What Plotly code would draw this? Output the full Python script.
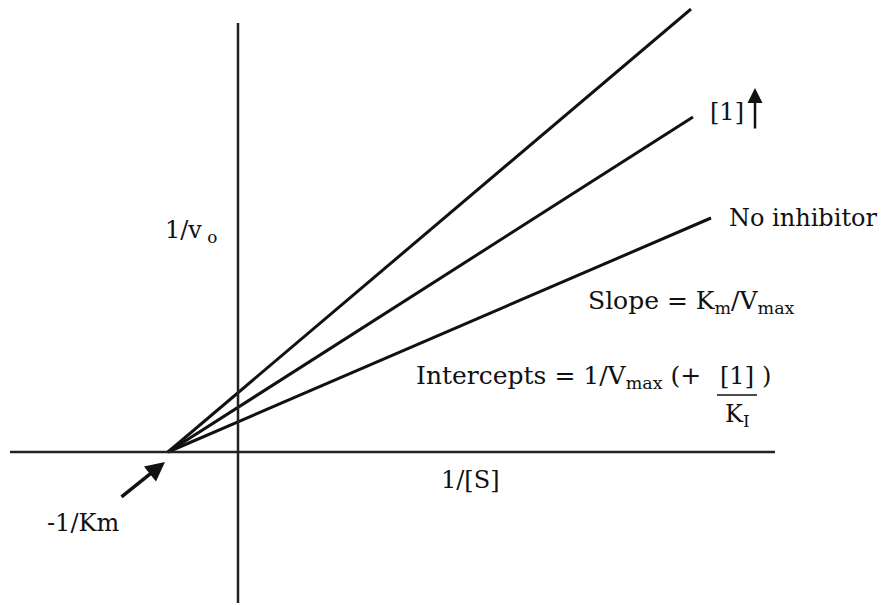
import plotly.graph_objects as go

# ---- data ----
series_names = ["[1] high", "[1]", "No inhibitor"]
x_intercept = -0.70          # -1/Km, shared by all lines
x_end = [4.53, 4.55, 4.73]
y_end = [4.43, 3.35, 2.34]

# axis extents (data units)
haxis_x = [-2.28, 5.37]
vaxis_y = [-1.51, 4.29]

FONT = "DejaVu Serif"
INK = "#111111"
fig = go.Figure()

for name, xe, ye in zip(series_names, x_end, y_end):
    fig.add_trace(go.Scatter(x=[x_intercept, xe], y=[0, ye], mode="lines",
                             line=dict(color=INK, width=3), name=name,
                             showlegend=False, hoverinfo="skip"))

# axes
fig.add_trace(go.Scatter(x=haxis_x, y=[0, 0], mode="lines",
                         line=dict(color="#222222", width=2.5), showlegend=False, hoverinfo="skip"))
fig.add_trace(go.Scatter(x=[0, 0], y=vaxis_y, mode="lines",
                         line=dict(color="#222222", width=2.5), showlegend=False, hoverinfo="skip"))

ann = [
    dict(x=4.89, y=2.34, text="No inhibitor", xanchor="left", size=24),
    dict(x=4.70, y=3.40, text="[1]", xanchor="left", size=24),
    dict(x=3.48, y=1.50, text="Slope = K<sub>m</sub>/V<sub>max</sub>", xanchor="left", size=25),
    dict(x=1.76, y=0.75, text="Intercepts = 1/V<sub>max</sub> (+", xanchor="left", size=25),
    dict(x=4.99, y=0.76, text="[1]", xanchor="center", size=24),
    dict(x=5.22, y=0.76, text=")", xanchor="left", size=24),
    dict(x=4.99, y=0.37, text="K<sub>I</sub>", xanchor="center", size=24),
    dict(x=-0.75, y=2.21, text="1/v<sub> o</sub>", xanchor="left", size=24),
    dict(x=2.32, y=-0.28, text="1/[S]", xanchor="center", size=24),
    dict(x=-1.55, y=-0.71, text="-1/Km", xanchor="center", size=24),
]
for a in ann:
    size = a.pop("size")
    fig.add_annotation(**a, yanchor="middle", showarrow=False,
                       font=dict(family=FONT, size=size, color=INK))

# arrow pointing at -1/Km
fig.add_annotation(x=-0.73, y=-0.10, ax=-1.18, ay=-0.46, axref="x", ayref="y",
                   xref="x", yref="y", text="", showarrow=True, arrowhead=2,
                   arrowsize=1.1, arrowwidth=3.5, arrowcolor=INK)
# [I] increasing arrow
fig.add_annotation(x=5.17, y=3.64, ax=5.17, ay=3.22, axref="x", ayref="y",
                   xref="x", yref="y", text="", showarrow=True, arrowhead=2,
                   arrowsize=1.2, arrowwidth=2.5, arrowcolor=INK)

# fraction bar for [1]/K_I
fig.add_shape(type="line", x0=4.79, x1=5.19, y0=0.57, y1=0.57,
              line=dict(color=INK, width=1.5))

# page body has an 8px margin: shift ranges so marks land where the reference has them
fig.update_layout(
    width=889, height=605,
    margin=dict(l=0, r=0, t=0, b=0),
    paper_bgcolor="white", plot_bgcolor="white",
    xaxis=dict(range=[-2.30, 6.59], visible=False, fixedrange=True),
    yaxis=dict(range=[-1.61, 4.44], visible=False, fixedrange=True),
    showlegend=False,
)

fig.write_html("out.html")
